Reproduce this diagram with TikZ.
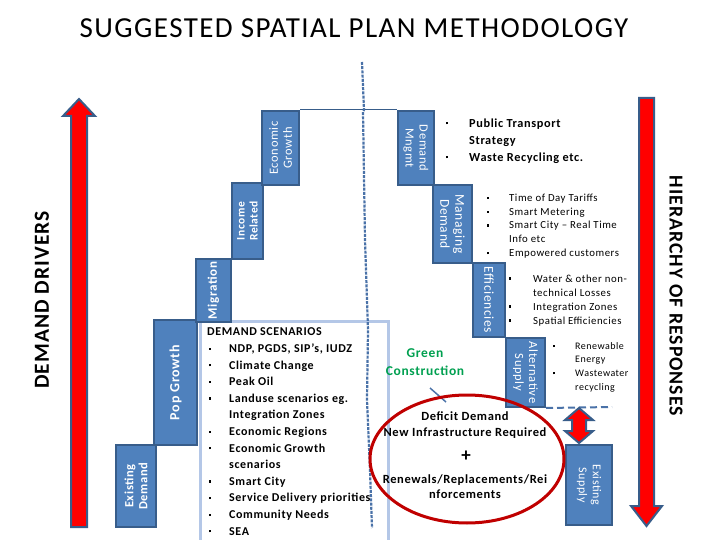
\documentclass[tikz,border=0pt]{standalone}
\usepackage{fontspec}
\setmainfont{Carlito}[LetterSpace=5]
\usetikzlibrary{shapes.geometric}
\definecolor{boxblue}{HTML}{4F81BD}
\definecolor{boxedge}{HTML}{385D8A}
\definecolor{scenedge}{HTML}{B4C7E7}
\definecolor{dashblue}{HTML}{4A72A8}
\definecolor{ellred}{HTML}{C00000}
\definecolor{greentxt}{HTML}{00A050}
\newcommand{\sqb}{\rule[0.22em]{2.2pt}{2.2pt}}
\tikzset{
  stepbox/.style={draw=boxedge, line width=2pt, fill=boxblue, text=white, inner sep=0pt, align=center},
  bigarrow/.style={draw=boxedge, line width=2pt, fill=red, line join=miter},
  listtext/.style={anchor=north west, inner sep=0pt, align=left},
}
\begin{document}
\begin{tikzpicture}[x=1pt,y=-1pt]
\useasboundingbox (0,0) rectangle (720,540);
\fill[white] (0,0) rectangle (720,540);

% title
\node[font=\fontsize{29}{31}\selectfont] (title) at (354,28) {SUGGESTED SPATIAL PLAN METHODOLOGY};

% big arrows
\draw[bigarrow] (71,527) -- (71,116) -- (63,116) -- (79,99) -- (95,116) -- (87,116) -- (87,527) -- cycle;
\node[rotate=90, font=\fontsize{21.5}{23}\selectfont\bfseries] (drivers) at (42,300) {DEMAND DRIVERS};
\draw[bigarrow] (639,98) -- (654,98) -- (654,506) -- (662,506) -- (646.5,526) -- (631,506) -- (639,506) -- cycle;
\node[rotate=-90, font=\fontsize{19.8}{21}\selectfont\bfseries] (hier) at (676,296) {HIERARCHY OF RESPONSES};

% demand scenarios box
\draw[scenedge, line width=3pt] (200,545) -- (200,321) -- (388,321) -- (388,545);

% left staircase
\node[stepbox, rotate=90, minimum width=82pt, minimum height=40pt, font=\fontsize{12.5}{14}\selectfont\bfseries] (exd) at (136,486) {Existing\\Demand};
\node[stepbox, rotate=90, minimum width=125pt, minimum height=43pt, font=\fontsize{14}{15}\selectfont\bfseries] (pop) at (175.5,382.5) {Pop Growth};
\node[stepbox, rotate=90, minimum width=63pt, minimum height=35pt, font=\fontsize{13}{14}\selectfont\bfseries] (mig) at (213.5,290.5) {Migration};
\node[stepbox, rotate=90, minimum width=76pt, minimum height=31pt, font=\fontsize{11.5}{13}\selectfont\bfseries] (inc) at (247.5,221) {Income\\Related};
\node[stepbox, rotate=90, minimum width=74pt, minimum height=37pt, font=\fontsize{12.5}{14}\selectfont] (eco) at (280.5,148) {Economic\\Growth};

% right staircase
\node[stepbox, rotate=-90, minimum width=74pt, minimum height=36pt, font=\fontsize{12.5}{14}\selectfont] (dm) at (416,148) {Demand\\Mngmt};
\node[stepbox, rotate=-90, minimum width=78pt, minimum height=39pt, font=\fontsize{13.5}{15}\selectfont] (md) at (452.5,224) {Managing\\Demand};
\node[stepbox, rotate=-90, minimum width=74pt, minimum height=32pt, font=\fontsize{13.5}{15}\selectfont] (eff) at (489,300) {Efficiencies};
\node[stepbox, rotate=-90, minimum width=69pt, minimum height=39pt, font=\fontsize{12.5}{14}\selectfont] (alt) at (525.5,372.5) {Alternative\\Supply};
\node[stepbox, rotate=-90, minimum width=80pt, minimum height=46pt, font=\fontsize{12}{14}\selectfont] (exs) at (589,485) {Existing\\Supply};

% connecting lines
\draw[boxedge, line width=1pt] (eco.south east) -- (dm.south west);
\draw[dashblue, line width=2.2pt, dash pattern=on 3pt off 1.2pt] (362,62) -- (364,110) -- (363,112) -- (365,240) -- (367,300) -- (368,330) -- (367,400) -- (370,470) -- (372,528);
\coordinate (dashend) at (612,407);
\draw[dashblue, line width=2pt, dash pattern=on 7pt off 4pt] (alt.north east) -- (dashend);

% double arrow
\draw[bigarrow] (579,408) -- (593,420) -- (586,420) -- (586,431) -- (593,431) -- (579,443) -- (565,431) -- (572,431) -- (572,420) -- (565,420) -- cycle;

% scenario list
\node[listtext, font=\fontsize{12}{16.6}\selectfont\bfseries] (scen) at (207,324) {%
\begin{tabular}{@{\hspace{2pt}}p{20pt}@{}l@{}}
\multicolumn{2}{@{}l@{}}{DEMAND SCENARIOS}\\
\sqb & NDP, PGDS, SIP’s, IUDZ\\
\sqb & Climate Change\\
\sqb & Peak Oil\\
\sqb & Landuse scenarios eg.\\
 & Integration Zones\\
\sqb & Economic Regions\\
\sqb & Economic Growth\\
 & scenarios\\
\sqb & Smart City\\
\sqb & Service Delivery priorities\\
\sqb & Community Needs\\
\sqb & SEA
\end{tabular}};

% right lists
\node[listtext, font=\fontsize{12.3}{17}\selectfont\bfseries] (lista) at (446,115) {%
\begin{tabular}{@{}p{23pt}@{}l@{}}
\sqb & Public Transport\\
 & Strategy\\
\sqb & Waste Recycling etc.
\end{tabular}};
\node[listtext, font=\fontsize{10.8}{13.8}\selectfont] (listb) at (487,191.5) {%
\begin{tabular}{@{}p{22pt}@{}l@{}}
\sqb & Time of Day Tariffs\\
\sqb & Smart Metering\\
\sqb & Smart City -- Real Time\\
 & Info etc\\
\sqb & Empowered customers
\end{tabular}};
\node[listtext, font=\fontsize{10.8}{14}\selectfont] (listc) at (509,272) {%
\begin{tabular}{@{}p{24pt}@{}l@{}}
\sqb & Water \& other non-\\
 & technical Losses\\
\sqb & Integration Zones\\
\sqb & Spatial Efficiencies
\end{tabular}};
\node[listtext, font=\fontsize{10}{13.7}\selectfont] (listd) at (553,339.5) {%
\begin{tabular}{@{}p{22pt}@{}l@{}}
\sqb & Renewable\\
 & Energy\\
\sqb & Wastewater\\
 & recycling
\end{tabular}};

% green construction
\node[font=\fontsize{13.5}{18}\selectfont\bfseries, text=greentxt, align=center] (green) at (425,362) {Green\\Construction};
\coordinate (ptr) at (446,402);
\draw[dashblue, line width=1.5pt] (430,388) -- (ptr);

% ellipse texts
\node[font=\fontsize{12.5}{16}\selectfont\bfseries, align=center] (deficit) at (465,425) {Deficit Demand\\New Infrastructure Required};
\node[font=\fontsize{19}{19}\selectfont\bfseries] (plus) at (466,456) {+};
\node[font=\fontsize{12.5}{15}\selectfont\bfseries, align=center] (renew) at (465,487) {Renewals/Replacements/Rei\\nforcements};
\node[draw=ellred, line width=3pt, ellipse, minimum width=194pt, minimum height=128pt] (ell) at (467,459) {};
\end{tikzpicture}
\end{document}
